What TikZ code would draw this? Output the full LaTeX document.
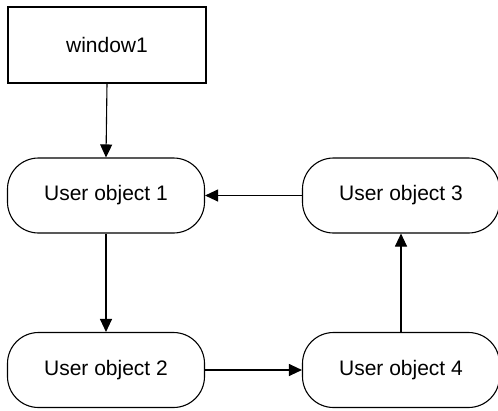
\documentclass[tikz,border=0pt]{standalone}
\usepackage{fontspec}
\setmainfont{Liberation Sans}
\usetikzlibrary{arrows.meta}
\begin{document}
\begin{tikzpicture}[x=1pt,y=-1pt,
  box/.style={draw=black, line width=1.1pt, minimum width=198pt, minimum height=76pt, inner sep=0pt, font=\fontsize{21}{25}\selectfont},
  obj/.style={draw=black, line width=1.1pt, rounded corners=31pt, minimum width=197pt, minimum height=75pt, inner sep=0pt, font=\fontsize{21}{25}\selectfont},
  conn/.style={draw=black, line width=1.1pt, -{Triangle[length=13pt,width=12pt]}}]
\fill[white] (0,0) rectangle (498,410);
\useasboundingbox (0,0) rectangle (498,410);
\node[box] (w) at (107,45) {window1};
\node[obj] (u1) at (106,195.5) {User object 1};
\node[obj] (u3) at (401,195.5) {User object 3};
\node[obj] (u2) at (106,370) {User object 2};
\node[obj] (u4) at (401,370) {User object 4};
\draw[conn] (w.south) -- (u1.north);
\draw[conn] (u3.west) -- (u1.east);
\draw[conn] (u1.south) -- (u2.north);
\draw[conn] (u2.east) -- (u4.west);
\draw[conn] (u4.north) -- (u3.south);
\end{tikzpicture}
\end{document}
